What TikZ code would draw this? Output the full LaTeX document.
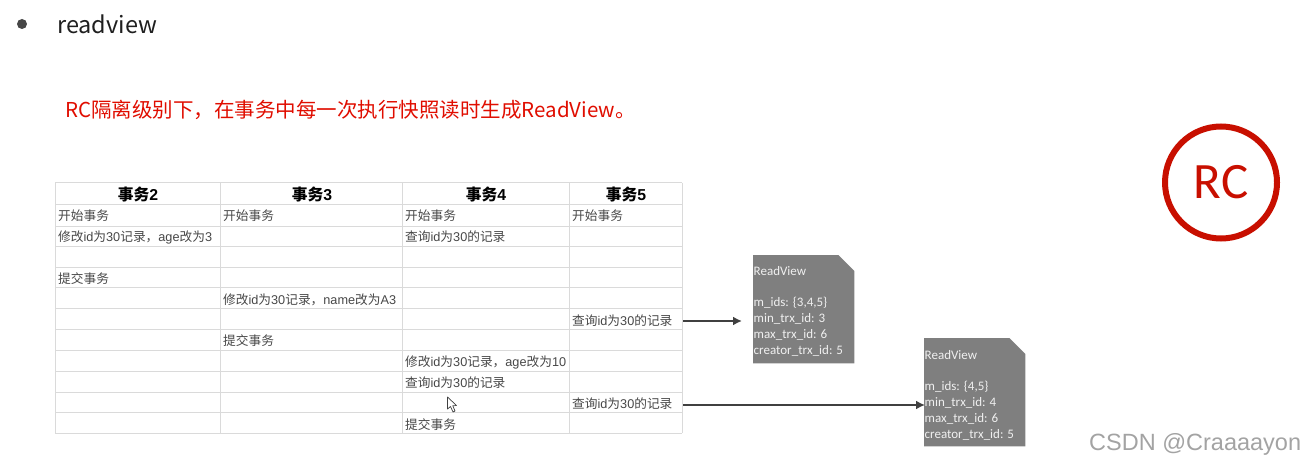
\documentclass[tikz,border=0pt]{standalone}
\usepackage{fontspec}
\setmainfont{Liberation Sans}
\newfontfamily\cjk{Noto Sans CJK SC}
\newfontfamily\cjkb{Noto Sans CJK SC Bold}
\newfontfamily\cali{Carlito}
\usetikzlibrary{arrows.meta}
\definecolor{gridc}{HTML}{DADADA}
\definecolor{redtxt}{HTML}{E00D00}
\definecolor{rcred}{HTML}{C80F00}
\definecolor{rvgray}{HTML}{7F7F7F}
\definecolor{arrowc}{HTML}{404040}
\newcommand{\Ks}{{\cjk 开始事务}}
\newcommand{\Tj}{{\cjk 提交事务}}
\newcommand{\Cx}{{\cjk 查询}id{\cjk 为}30{\cjk 的记录}}
\newcommand{\Snip}[1]{\fill[rvgray] (#1.north west) -- ([xshift=-16pt]#1.north east) -- ([yshift=-16pt]#1.north east) -- (#1.south east) -- (#1.south west) -- cycle;}
\tikzset{
  head/.style={anchor=center,inner sep=0pt,font=\fontsize{15.8}{16}\selectfont\bfseries},
  cell/.style={anchor=west,inner sep=0pt,text=black!72,font=\fontsize{12.7}{13}\selectfont},
  gridline/.style={draw=gridc,line width=1pt},
  rvbox/.style={rectangle,draw=none,minimum width=101pt,minimum height=108pt,inner sep=0pt},
  rvtext/.style={anchor=north west,inner sep=0pt,align=left,text=white!94!black,font=\cali\fontsize{13}{15.8}\selectfont},
  link/.style={draw=arrowc,-{Latex[length=9pt,width=9pt]}}
}
\begin{document}
\begin{tikzpicture}[x=1pt,y=-1pt]
\useasboundingbox (0,0) rectangle (1305,465);
% title
\node[circle,fill=black!72,minimum size=10pt,inner sep=0pt] (bullet) at (22,24) {};
\node[anchor=west,inner sep=0pt,text=black!88] (title) at (57,24) {\cjk\fontsize{23.5}{24}\selectfont readview};
\node[anchor=west,inner sep=0pt,text=redtxt] (note) at (65,110) {\cjk\fontsize{20.5}{22}\selectfont RC隔离级别下，在事务中每一次执行快照读时生成ReadView。};
% grid
\foreach \yy in {183,204,226,246,267,287,308,329,350,371,392,412,433}
  \draw[gridline] (55,\yy) -- (682,\yy);
\foreach \xx in {55,220,402,569,682}
  \draw[gridline] (\xx,183) -- (\xx,433);
% headers
\node[head] (h2) at (138,195) {{\cjkb 事务}2};
\node[head] (h3) at (312,195) {{\cjkb 事务}3};
\node[head] (h4) at (486,195) {{\cjkb 事务}4};
\node[head] (h5) at (626,195) {{\cjkb 事务}5};
% column 2
\node[cell] (a1) at (58,216) {\Ks};
\node[cell] (a2) at (58,237) {{\cjk 修改}id{\cjk 为}30{\cjk 记录，}age{\cjk 改为}3};
\node[cell] (a3) at (58,278.5) {\Tj};
% column 3
\node[cell] (b1) at (223,216) {\Ks};
\node[cell] (b2) at (223,299.5) {{\cjk 修改}id{\cjk 为}30{\cjk 记录，}name{\cjk 改为}A3};
\node[cell] (b3) at (223,341) {\Tj};
% column 4
\node[cell] (c1) at (405,216) {\Ks};
\node[cell] (c2) at (405,237) {\Cx};
\node[cell] (c3) at (405,362) {{\cjk 修改}id{\cjk 为}30{\cjk 记录，}age{\cjk 改为}10};
\node[cell] (c4) at (405,382.5) {\Cx};
\node[cell] (c5) at (405,424.5) {\Tj};
% column 5
\node[cell] (d1) at (572,216) {\Ks};
\node[cell] (d2) at (572,320.5) {\Cx};
\node[cell] (d3) at (572,403.5) {\Cx};
% readview boxes
\node[rvbox,anchor=north west] (rv1) at (753,255) {};
\Snip{rv1}
\node[rvtext] (rv1t) at (753.5,266) {ReadView\\[15.8pt]m\_ids: \{3,4,5\}\\min\_trx\_id: 3\\max\_trx\_id: 6\\creator\_trx\_id: 5};
\node[rvbox,anchor=north west] (rv2) at (924,338) {};
\Snip{rv2}
\node[rvtext] (rv2t) at (924.5,350) {ReadView\\[15.8pt]m\_ids: \{4,5\}\\min\_trx\_id: 4\\max\_trx\_id: 6\\creator\_trx\_id: 5};
% connectors
\coordinate (s1) at (683,321);
\coordinate (e1) at (742,321);
\coordinate (s2) at (683,405);
\coordinate (e2) at (925,405);
\draw[link,line width=1.8pt] (s1) -- (e1);
\draw[link,line width=2.6pt] (s2) -- (e2);
% RC badge
\node[circle,draw=rcred,line width=6pt,minimum size=112pt,inner sep=0pt,text=rcred] (rc) at (1221,182.5) {\cali\fontsize{51}{51}\selectfont RC};
% cursor
\draw[black!75,fill=white,line width=0.7pt,line join=round] (447.5,397) -- (447.5,409) -- (450.5,406.5) -- (453,412) -- (455,411) -- (452.8,405.8) -- (456.5,405.5) -- cycle;
% watermark
\node[anchor=west,inner sep=0pt,text=black!36] (mark) at (1089,444) {\fontsize{23.5}{24}\selectfont CSDN @Craaaayon};
\end{tikzpicture}
\end{document}
